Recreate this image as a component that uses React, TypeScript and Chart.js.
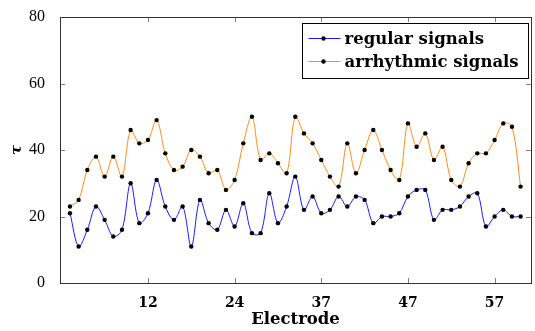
import React, { useEffect, useRef } from "react";
import { Chart, registerables } from "chart.js";

Chart.register(...registerables);

const regularSignals = [21, 11, 16, 23, 19, 14, 16, 30, 18, 21, 31, 23, 19, 23, 11, 25, 18, 16, 22, 17, 24, 15, 15, 27, 18, 23, 32, 22, 26, 21, 22, 26, 23, 26, 25, 18, 20, 20, 21, 26, 28, 28, 19, 22, 22, 23, 26, 27, 17, 20, 22, 20, 20];
const arrhythmicSignals = [23, 25, 34, 38, 32, 38, 32, 46, 42, 43, 49, 39, 34, 35, 40, 38, 33, 34, 28, 31, 42, 50, 37, 39, 36, 33, 50, 45, 42, 37, 32, 29, 42, 33, 40, 46, 40, 34, 31, 48, 41, 45, 37, 41, 31, 29, 36, 39, 39, 43, 48, 47, 29];
const tickPositions = [9, 19, 29, 39, 49];
const tickLabels = ["12", "24", "37", "47", "57"];
const yTicks = [0, 20, 40, 60, 80];

const SERIF = "'DejaVu Serif', serif";
const LSERIF = "'Liberation Serif', serif";

const framePlugin = {
  id: "frame",
  afterDraw(chart: any) {
    const { ctx, chartArea: a, scales } = chart;
    ctx.save();
    ctx.strokeStyle = "#808080";
    ctx.lineWidth = 1;
    const t = 5;
    ctx.beginPath();
    for (const v of tickPositions) {
      const x = Math.round(scales.x.getPixelForValue(v)) + 0.5;
      ctx.moveTo(x, a.bottom);
      ctx.lineTo(x, a.bottom - t);
      ctx.moveTo(x, a.top);
      ctx.lineTo(x, a.top + t);
    }
    for (const v of yTicks) {
      const y = Math.round(scales.y.getPixelForValue(v)) + 0.5;
      ctx.moveTo(a.left, y);
      ctx.lineTo(a.left + t, y);
      ctx.moveTo(a.right, y);
      ctx.lineTo(a.right - t, y);
    }
    ctx.stroke();
    ctx.strokeStyle = "#333";
    ctx.strokeRect(Math.round(a.left) + 0.5, Math.round(a.top) + 0.5, Math.round(a.right - a.left), Math.round(a.bottom - a.top));

    // legend
    const bx = 302.5, by = 23.5, bw = 226, bh = 55;
    ctx.fillStyle = "#fff";
    ctx.fillRect(bx, by, bw, bh);
    ctx.strokeStyle = "#000";
    ctx.strokeRect(bx, by, bw, bh);
    chart.data.datasets.forEach((ds: any, i: number) => {
      const y = by + 15 + i * 23;
      ctx.strokeStyle = ds.borderColor;
      ctx.beginPath();
      ctx.moveTo(bx + 6, y);
      ctx.lineTo(bx + 38, y);
      ctx.stroke();
      ctx.fillStyle = "#000";
      ctx.beginPath();
      ctx.arc(bx + 21, y, 2.2, 0, Math.PI * 2);
      ctx.fill();
      ctx.font = "bold 16.5px " + SERIF;
      ctx.textBaseline = "middle";
      ctx.textAlign = "left";
      ctx.fillText(ds.label, bx + 42, y + 1);
    });
    ctx.restore();
  },
};

export default function App() {
  const ref = useRef<HTMLCanvasElement>(null);
  useEffect(() => {
    document.body.style.margin = "0";
    const points = (arr: number[]) => arr.map((v, i) => ({ x: i, y: v }));
    const chart = new Chart(ref.current!, {
      type: "line",
      data: {
        datasets: [
          {
            label: "regular signals",
            data: points(regularSignals),
            borderColor: "#1a1aff",
            borderWidth: 1,
            pointRadius: 2.2,
            pointBackgroundColor: "#000",
            pointBorderColor: "#000",
            pointBorderWidth: 0,
            tension: 0.35,
          },
          {
            label: "arrhythmic signals",
            data: points(arrhythmicSignals),
            borderColor: "#ff8c1a",
            borderWidth: 1,
            pointRadius: 2.2,
            pointBackgroundColor: "#000",
            pointBorderColor: "#000",
            pointBorderWidth: 0,
            tension: 0.35,
          },
        ],
      },
      options: {
        animation: false,
        responsive: false,
        layout: { padding: { top: 17, right: 4, left: 0, bottom: 0 } },
        plugins: { legend: { display: false }, tooltip: { enabled: false } },
        scales: {
          x: {
            type: "linear",
            min: -1.15,
            max: 53.2,
            grid: { display: false },
            border: { display: false },
            afterBuildTicks: (s: any) => {
              s.ticks = tickPositions.map((v) => ({ value: v }));
            },
            afterFit: (s: any) => {
              s.height = 48;
            },
            ticks: {
              autoSkip: false,
              maxRotation: 0,
              padding: 4,
              color: "#000",
              font: { family: SERIF, weight: "bold", size: 14 },
              callback: (_v: any, i: number) => tickLabels[i],
            },
            title: {
              display: true,
              text: "Electrode",
              color: "#000",
              font: { family: SERIF, weight: "bold", size: 16.5 },
              padding: { top: 0, bottom: 1 },
            },
          },
          y: {
            min: 0,
            max: 80,
            grid: { display: false },
            border: { display: false },
            afterBuildTicks: (s: any) => {
              s.ticks = yTicks.map((v) => ({ value: v }));
            },
            afterFit: (s: any) => {
              s.width = 60;
            },
            ticks: {
              padding: 7,
              color: "#000",
              font: { family: LSERIF, size: 16 },
            },
            title: {
              display: true,
              text: "τ",
              color: "#000",
              font: { family: SERIF, weight: "bold", style: "italic", size: 15 },
              padding: { top: 8, bottom: 0 },
            },
          },
        },
      },
      plugins: [framePlugin],
    } as any);
    return () => chart.destroy();
  }, []);
  return <canvas ref={ref} width={535} height={331} style={{ display: "block" }} />;
}
